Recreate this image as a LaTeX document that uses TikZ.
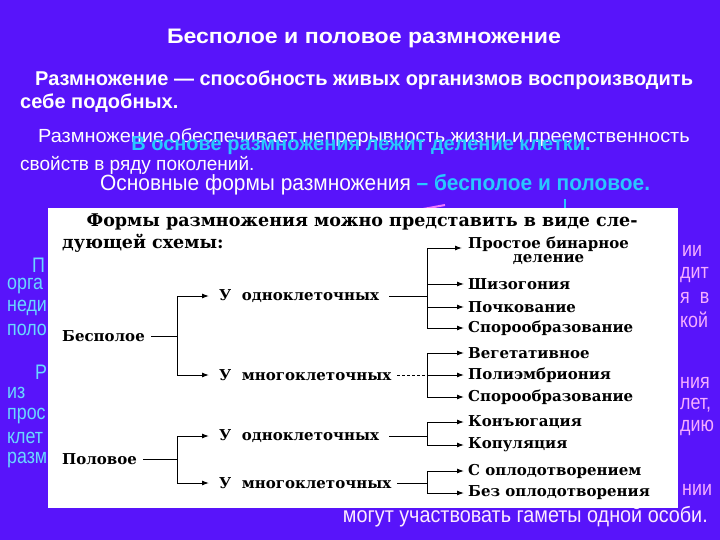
\documentclass[tikz,border=0pt]{standalone}
\usepackage{fontspec}
\setmainfont{Liberation Sans}
\newfontfamily\ser{DejaVu Serif}
\usetikzlibrary{arrows.meta}
\definecolor{bg}{RGB}{88,20,250}
\definecolor{cy}{RGB}{40,200,255}
\definecolor{pk}{RGB}{240,120,255}
\tikzset{
 wt/.style={text=white,inner sep=0,anchor=west,font=\fontsize{15}{15}\selectfont},
 wb/.style={wt,font=\fontsize{20}{20}\selectfont\bfseries},
 bits/.style={text=cy!70!white,inner sep=0,anchor=west,font=\fontsize{21}{21}\selectfont},
 sc/.style={inner sep=0,anchor=west,font=\ser\bfseries\fontsize{15}{15}\selectfont},
 ar/.style={-{Latex[length=7pt,width=5pt]},line width=1pt},
 ln/.style={line width=1pt}
}
\begin{document}
\begin{tikzpicture}[x=1pt,y=-1pt]
\fill[bg] (0,0) rectangle (720,540);
\useasboundingbox (0,0) rectangle (720,540);
\node[text=white,font=\fontsize{21}{21}\selectfont\bfseries,inner sep=0,xscale=1.1] (title) at (364,38) {Бесполое и половое размножение};
\node[wb,xscale=1.0] (d1) at (35,80) {Размножение — способность живых организмов воспроизводить};
\node[wb] (d2) at (20,103) {себе подобных.};
\node[wt,font=\fontsize{19}{19}\selectfont,xscale=1.05] (p1) at (38,138) {Размножение обеспечивает непрерывность жизни и преемственность};
\node[text=cy,inner sep=0,font=\fontsize{20}{20}\selectfont\bfseries] (p2) at (361,146) {В основе размножения лежит деление клетки.};
\node[wt,font=\fontsize{19}{19}\selectfont] (p3) at (20,165) {свойств в ряду поколений.};
\node[wt,font=\fontsize{22}{22}\selectfont,xscale=0.95] (f1) at (100,185) {Основные формы размножения \textcolor{cy}{\bfseries – бесполое и половое.}};
\coordinate (pa) at (445,205); \coordinate (pb) at (385,216);
\draw[pk,line width=2pt] (pa) -- (pb);
\coordinate (ca) at (565,199); \coordinate (cb) at (565,214);
\draw[cy,line width=2pt] (ca) -- (cb);
% hidden fragments
\foreach \t/\x/\y [count=\i] in {П/32/265,орга/7/286,неди/7/308,поло/7/330,Р/35/372,из/7/393,прос/7/416,клет/7/438,разм/7/460}
  \node[bits,xscale=0.85] (l\i) at (\x,\y) {\t};
\foreach \t/\x/\y [count=\i] in {ии/682/251,дит/680/275,{я~~в}/680/298,кой/680/320,ния/680/383,{лет,}/680/405,дию/680/428,нии/682/490}
  \node[bits,xscale=0.85,text=pk!60!white] (r\i) at (\x,\y) {\t};
\node[wt,font=\fontsize{22}{22}\selectfont,xscale=0.9,anchor=east,text=white!85!pk] (last) at (708,517) {могут участвовать гаметы одной особи.};
% inset
\fill[white] (48,208) rectangle (678,508);
\node[sc,font=\ser\bfseries\fontsize{17.5}{17.5}\selectfont] (h1) at (62,222) {\hspace{1.4em}Формы размножения можно представить в виде сле-};
\node[sc,font=\ser\bfseries\fontsize{17.5}{17.5}\selectfont] (h2) at (62,243) {дующей схемы:};
\node[sc] (bes) at (62,336) {Бесполое};
\node[sc] (pol) at (62,459) {Половое};
\node[sc] (u1) at (219,296) {У\ \ одноклеточных};
\node[sc] (m1) at (219,375) {У\ \ многоклеточных};
\node[sc] (u2) at (219,436) {У\ \ одноклеточных};
\node[sc] (m2) at (219,483) {У\ \ многоклеточных};
\node[sc,align=center,anchor=north west] (a1) at (468,237) {Простое бинарное\\[-1pt]деление};
\node[sc] (a2) at (468,284) {Шизогония};
\node[sc] (a3) at (468,307) {Почкование};
\node[sc] (a4) at (468,328) {Спорообразование};
\node[sc] (b1) at (468,353) {Вегетативное};
\node[sc] (b2) at (468,375) {Полиэмбриония};
\node[sc] (b3) at (468,397) {Спорообразование};
\node[sc] (c1) at (468,422) {Конъюгация};
\node[sc] (c2) at (468,445) {Копуляция};
\node[sc] (e1) at (468,471) {С оплодотворением};
\node[sc] (e2) at (468,493) {Без оплодотворения};
% connectors
\draw[ln] (bes.east)++(6,0) -- (177,336);
\draw[ar] (177,296) -- ([xshift=-10pt]u1.west); \draw[ar] (177,375) -- ([xshift=-10pt]m1.west);
\draw[ln] (177,296) -- (177,375);
\draw[ln] (pol.east)++(6,0) -- (177,459);
\draw[ar] (177,436) -- ([xshift=-10pt]u2.west); \draw[ar] (177,483) -- ([xshift=-10pt]m2.west);
\draw[ln] (177,436) -- (177,483);
\draw[ln] (u1.east)++(10,0) -- (427,296);
\draw[ln] (427,248) -- (427,328);
\foreach \n/\y in {a2/284,a3/307,a4/328} \draw[ar] (427,\y) -- ([xshift=-4pt]\n.west);
\draw[ar] (427,248) -- (462,248);
\draw[ln,densely dashed] (m1.east)++(6,0) -- (427,375);
\draw[ln] (427,353) -- (427,397);
\foreach \n/\y in {b1/353,b2/375,b3/397} \draw[ar] (427,\y) -- ([xshift=-4pt]\n.west);
\draw[ln] (u2.east)++(10,0) -- (427,436);
\draw[ln] (427,422) -- (427,445);
\foreach \n/\y in {c1/422,c2/445} \draw[ar] (427,\y) -- ([xshift=-4pt]\n.west);
\draw[ln] (m2.east)++(6,0) -- (427,483);
\draw[ln] (427,471) -- (427,493);
\foreach \n/\y in {e1/471,e2/493} \draw[ar] (427,\y) -- ([xshift=-4pt]\n.west);
\end{tikzpicture}
\end{document}
